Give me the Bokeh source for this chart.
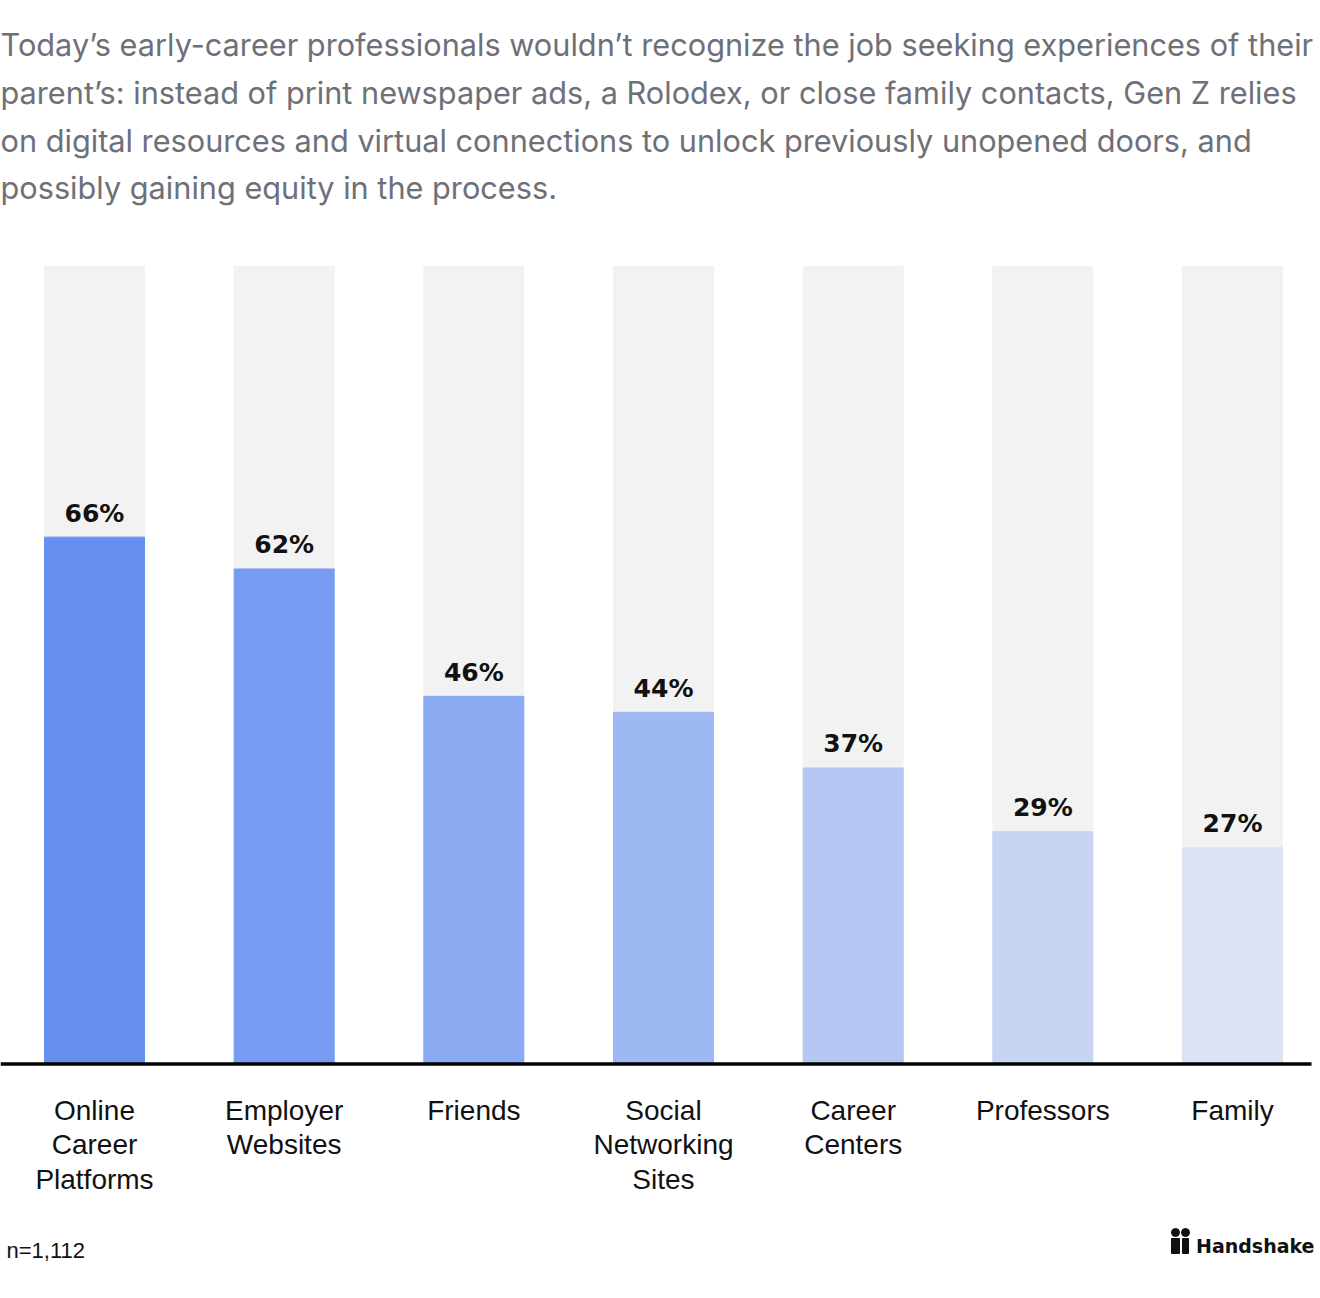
from bokeh.plotting import figure
from bokeh.models import Range1d, ColumnDataSource
from bokeh.core.properties import value
from bokeh.embed import file_html
from bokeh.resources import INLINE

categories = ["Online\nCareer\nPlatforms", "Employer\nWebsites", "Friends",
              "Social\nNetworking\nSites", "Career\nCenters", "Professors", "Family"]
values = [66, 62, 46, 44, 37, 29, 27]
labels = ["66%", "62%", "46%", "44%", "37%", "29%", "27%"]
colors = ["#6690F0", "#779BF2", "#8AAAF2", "#9EB8F2", "#B3C7F2", "#C8D5F2", "#DDE3F3"]
title_lines = [
    "Today\u2019s early-career professionals wouldn\u2019t recognize the job seeking experiences of their",
    "parent\u2019s: instead of print newspaper ads, a Rolodex, or close family contacts, Gen Z relies",
    "on digital resources and virtual connections to unlock previously unopened doors, and",
    "possibly gaining equity in the process.",
]
note = "n=1,112"
brand = "Handshake"

W, H = 1320, 1298
# pixel geometry of the plot area
X0, DX = 94.0, 189.67      # centre of first bar, spacing
Y0, YS = 1062.0, 7.96      # baseline pixel, px per percent

def xd(px):
    return (px - X0) / DX

def yd(py):
    return (Y0 - py) / YS

p = figure(width=W, height=H, output_backend="svg", toolbar_location=None,
           x_range=Range1d(xd(0), xd(W)), y_range=Range1d(yd(H), yd(0)),
           min_border=0, outline_line_color=None)
p.axis.visible = False
p.grid.visible = False
p.background_fill_color = "white"
p.border_fill_color = "white"

xs = list(range(len(categories)))
src = ColumnDataSource(dict(x=xs, v=values, lab=labels, cat=categories, c=colors,
                            full=[100] * len(xs)))
bw = 100 / DX
p.vbar(x="x", top="full", bottom=0, width=bw, color="#F2F2F2", source=src)
p.vbar(x="x", top="v", bottom=0, width=bw, color="c", source=src)

p.text(x="x", y="v", text="lab", source=src, text_align="center",
       text_baseline="alphabetic", y_offset=-24,
       text_font=value("DejaVu Sans"), text_font_style="bold",
       text_font_size="25px", text_color="#111111")

# baseline
p.segment(x0=[xd(0)], y0=[yd(1063.5)], x1=[xd(1311)], y1=[yd(1063.5)],
          line_color="black", line_width=3.5)

# category labels
p.text(x="x", y=yd(1094), text="cat", source=src, text_align="center",
       text_baseline="top", text_font=value("Liberation Sans"),
       text_font_size="28px", text_color="#111111", text_line_height=1.12)

# title
tys = [44, 92, 140, 187]
p.text(x=[xd(0)] * 4, y=[yd(t) for t in tys], text=title_lines,
       text_align="left", text_baseline="alphabetic", text_font=value("Inter"),
       text_font_size="30.7px", text_color="#6E7079")

# footer
p.text(x=[xd(6)], y=[yd(1250)], text=[note], text_align="left",
       text_baseline="alphabetic", text_font=value("Liberation Sans"),
       text_font_size="22px", text_color="#111111")
p.text(x=[xd(1314)], y=[yd(1245)], text=[brand], text_align="right",
       text_baseline="alphabetic", text_font=value("DejaVu Sans"),
       text_font_style="bold", text_font_size="19px", text_color="#111111")
# brand mark
p.scatter(x=[xd(1175), xd(1185)], y=[yd(1232), yd(1232)], size=8,
          marker="circle", color="#111111")
p.quad(left=[xd(1171), xd(1182)], right=[xd(1179), xd(1188)],
       top=[yd(1238), yd(1238)], bottom=[yd(1253), yd(1253)], color="#111111")

open("out.html", "w").write(file_html(p, INLINE))
